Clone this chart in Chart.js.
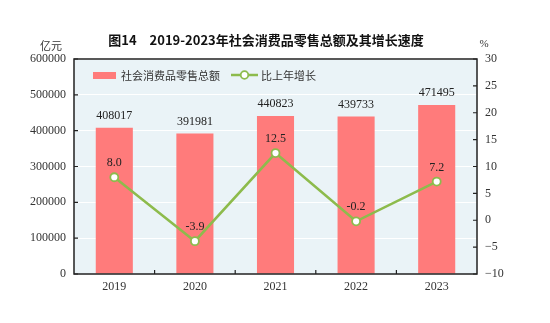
<!DOCTYPE html>
<html>
<head>
<meta charset="utf-8">
<script src="https://cdn.jsdelivr.net/npm/chart.js@4"></script>
<style>
  html, body { margin: 0; padding: 0; background: #fff; }
  #wrap { width: 550px; height: 323px; position: relative; }
</style>
</head>
<body>
<div id="wrap"><canvas id="retailChart" width="550" height="323"></canvas></div>
<script>
// 2019-2023 retail sales of consumer goods and growth rate
const years = ['2019', '2020', '2021', '2022', '2023'];
const retailSales = [408017, 391981, 440823, 439733, 471495];
const growthRate = [8.0, -3.9, 12.5, -0.2, 7.2];
const leftTicks = [0, 100000, 200000, 300000, 400000, 500000, 600000];
const rightTicks = [-10, -5, 0, 5, 10, 15, 20, 25, 30];

const SERIF = '"Liberation Serif", "DejaVu Serif", serif';
const CJK = '"Noto Sans CJK SC", sans-serif';
const BAR_COLOR = '#FF7B7B';
const LINE_COLOR = '#8DBB4C';

// Panel background, frame, inward tick marks, titles and value labels
const decorPlugin = {
    id: 'decor',
    beforeDraw(chart) {
        const { ctx, chartArea: a } = chart;
        ctx.save();
        ctx.fillStyle = '#EAF3F7';
        ctx.fillRect(a.left, a.top, a.right - a.left, a.bottom - a.top);
        ctx.restore();
    },
    afterDraw(chart) {
        const { ctx, chartArea: a, scales } = chart;
        ctx.save();

        // frame
        ctx.strokeStyle = '#222';
        ctx.lineWidth = 1.5;
        ctx.strokeRect(a.left, a.top, a.right - a.left, a.bottom - a.top);

        // inward ticks
        ctx.lineWidth = 1.2;
        ctx.beginPath();
        leftTicks.forEach(v => {
            const y = scales.y.getPixelForValue(v);
            ctx.moveTo(a.left, y); ctx.lineTo(a.left + 4, y);
        });
        rightTicks.forEach(v => {
            const y = scales.y1.getPixelForValue(v);
            ctx.moveTo(a.right, y); ctx.lineTo(a.right - 4, y);
        });
        const step = (a.right - a.left) / years.length;
        for (let i = 1; i < years.length; i++) {
            const x = a.left + step * i;
            ctx.moveTo(x, a.bottom); ctx.lineTo(x, a.bottom - 4);
        }
        ctx.stroke();

        // title and unit labels
        ctx.fillStyle = '#111';
        ctx.textAlign = 'center';
        ctx.textBaseline = 'middle';
        ctx.font = 'bold 13px ' + CJK;
        ctx.fillText('图14\u30002019-2023年社会消费品零售总额及其增长速度', 266, 40);
        ctx.font = '11px ' + CJK;
        ctx.fillStyle = '#333';
        ctx.fillText('亿元', 51, 46);
        ctx.font = '11px ' + SERIF;
        ctx.fillText('%', 484, 44);

        // value labels
        ctx.fillStyle = '#222';
        ctx.font = '12px ' + SERIF;
        const barMeta = chart.getDatasetMeta(0);
        barMeta.data.forEach((bar, i) => {
            ctx.fillText(String(retailSales[i]), bar.x, bar.y - 12);
        });
        const lineMeta = chart.getDatasetMeta(1);
        lineMeta.data.forEach((pt, i) => {
            ctx.fillText(growthRate[i].toFixed(1), pt.x, pt.y - 14);
        });

        // legend
        ctx.fillStyle = BAR_COLOR;
        ctx.fillRect(93, 72, 23, 7);
        ctx.fillStyle = '#333';
        ctx.textAlign = 'left';
        ctx.font = '11px ' + CJK;
        ctx.fillText('社会消费品零售总额', 121, 75.5);
        ctx.strokeStyle = LINE_COLOR;
        ctx.lineWidth = 2.5;
        ctx.beginPath();
        ctx.moveTo(231, 75); ctx.lineTo(258, 75);
        ctx.stroke();
        ctx.fillStyle = '#fff';
        ctx.lineWidth = 1.8;
        ctx.beginPath();
        ctx.arc(244.5, 75, 3.8, 0, Math.PI * 2);
        ctx.fill(); ctx.stroke();
        ctx.fillStyle = '#333';
        ctx.fillText('比上年增长', 261, 75.5);

        ctx.restore();
    }
};

new Chart(document.getElementById('retailChart'), {
    data: {
        labels: years,
        datasets: [
            {
                type: 'bar',
                label: '社会消费品零售总额',
                data: retailSales,
                backgroundColor: BAR_COLOR,
                barPercentage: 0.46,
                categoryPercentage: 1,
                yAxisID: 'y',
                order: 2
            },
            {
                type: 'line',
                label: '比上年增长',
                data: growthRate,
                borderColor: LINE_COLOR,
                borderWidth: 2.5,
                pointBackgroundColor: '#fff',
                pointBorderColor: LINE_COLOR,
                pointBorderWidth: 1.8,
                pointRadius: 4,
                tension: 0,
                yAxisID: 'y1',
                order: 1
            }
        ]
    },
    options: {
        responsive: false,
        animation: false,
        devicePixelRatio: 1,
        layout: { padding: { top: 59, left: 0, right: 0, bottom: 0 } },
        plugins: {
            legend: { display: false },
            title: { display: false },
            tooltip: { enabled: false }
        },
        scales: {
            x: {
                offset: true,
                grid: { display: false, drawTicks: false },
                border: { display: false },
                ticks: {
                    color: '#333',
                    font: { family: SERIF, size: 12 },
                    padding: 6
                },
                afterFit(scale) { scale.height = 49; }
            },
            y: {
                position: 'left',
                min: 0,
                max: 600000,
                grid: { color: '#FFFFFF', lineWidth: 1, drawTicks: false },
                border: { display: false },
                ticks: {
                    stepSize: 100000,
                    color: '#333',
                    font: { family: SERIF, size: 12 },
                    padding: 8,
                    callback: v => String(v)
                },
                afterFit(scale) { scale.width = 74; }
            },
            y1: {
                position: 'right',
                min: -10,
                max: 30,
                grid: { display: false, drawTicks: false },
                border: { display: false },
                ticks: {
                    stepSize: 5,
                    color: '#333',
                    font: { family: SERIF, size: 12 },
                    padding: 8,
                    callback: v => v < 0 ? '\u2212' + Math.abs(v) : String(v)
                },
                afterFit(scale) { scale.width = 73; }
            }
        }
    },
    plugins: [decorPlugin]
});
</script>
</body>
</html>
